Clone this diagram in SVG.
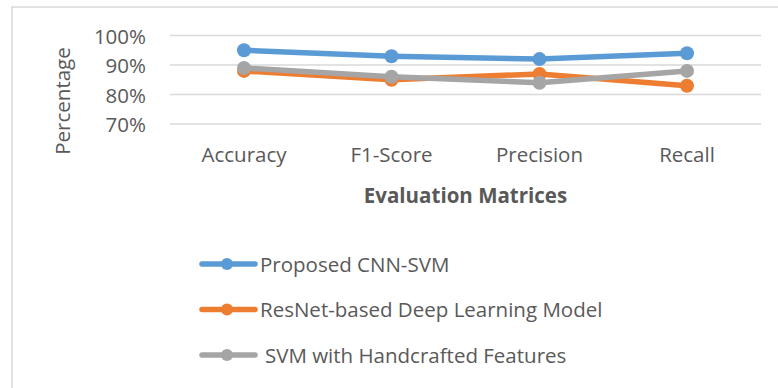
<svg xmlns="http://www.w3.org/2000/svg" width="778" height="388" viewBox="0 0 778 388">
<style>
text{font-family:"Open Sans","Liberation Sans",sans-serif;fill:#595959;font-size:20.5px}
.grid{stroke:#d9d9d9;stroke-width:1.5}
.s{fill:none;stroke-width:5.5;stroke-linecap:round;stroke-linejoin:round}
.b{stroke:#5b9bd5}.bf{fill:#5b9bd5}
.o{stroke:#ed7d31}.of{fill:#ed7d31}
.g{stroke:#a5a5a5}.gf{fill:#a5a5a5}
</style>
<rect x="0" y="0" width="778" height="388" fill="#fff"/>
<rect x="12" y="7" width="800" height="420" fill="none" stroke="#d9d9d9" stroke-width="1.5"/>
<g id="gridlines">
<line class="grid" x1="170" y1="35.5" x2="761" y2="35.5"/>
<line class="grid" x1="170" y1="65" x2="761" y2="65"/>
<line class="grid" x1="170" y1="94.5" x2="761" y2="94.5"/>
<line class="grid" x1="170" y1="124" x2="761" y2="124"/>
</g>
<g id="y-axis" text-anchor="end">
<text x="146" y="43.5">100%</text>
<text x="146" y="73">90%</text>
<text x="146" y="102.5">80%</text>
<text x="146" y="132">70%</text>
<text x="70" y="101" text-anchor="middle" transform="rotate(-90 70 101)">Percentage</text>
</g>
<g id="x-axis" text-anchor="middle">
<text x="244" y="162">Accuracy</text>
<text x="391.5" y="162">F1-Score</text>
<text x="539.5" y="162">Precision</text>
<text x="687" y="162">Recall</text>
<text x="465.5" y="203" font-weight="bold" font-size="22.5">Evaluation Matrices</text>
</g>
<g id="connectors">
<polyline class="s b" points="244,50.3 391.5,56.2 539.5,59.1 687,53.2"/>
<polyline class="s o" points="244,70.9 391.5,79.8 539.5,73.9 687,85.7"/>
<polyline class="s g" points="244,68 391.5,76.8 539.5,82.7 687,70.9"/>
</g>
<g id="series-proposed">
<circle class="bf" cx="244" cy="50.3" r="7"/><circle class="bf" cx="391.5" cy="56.2" r="7"/><circle class="bf" cx="539.5" cy="59.1" r="7"/><circle class="bf" cx="687" cy="53.2" r="7"/>
</g>
<g id="series-resnet">
<circle class="of" cx="244" cy="70.9" r="7"/><circle class="of" cx="391.5" cy="79.8" r="7"/><circle class="of" cx="539.5" cy="73.9" r="7"/><circle class="of" cx="687" cy="85.7" r="7"/>
</g>
<g id="series-svm">
<circle class="gf" cx="244" cy="68" r="7"/><circle class="gf" cx="391.5" cy="76.8" r="7"/><circle class="gf" cx="539.5" cy="82.7" r="7"/><circle class="gf" cx="687" cy="70.9" r="7"/>
</g>
<g id="legend">
<g id="legend-proposed">
<line class="s b" x1="202" y1="264" x2="255" y2="264" stroke-width="5"/><circle class="bf" cx="227" cy="264" r="6"/>
<text x="260" y="271.5">Proposed CNN-SVM</text>
</g>
<g id="legend-resnet">
<line class="s o" x1="202" y1="309.5" x2="255" y2="309.5" stroke-width="5"/><circle class="of" cx="227" cy="309.5" r="6"/>
<text x="260" y="317">ResNet-based Deep Learning Model</text>
</g>
<g id="legend-svm">
<line class="s g" x1="202" y1="355" x2="255" y2="355" stroke-width="5"/><circle class="gf" cx="227" cy="355" r="6"/>
<text x="265" y="362.5">SVM with Handcrafted Features</text>
</g>
</g>
</svg>
